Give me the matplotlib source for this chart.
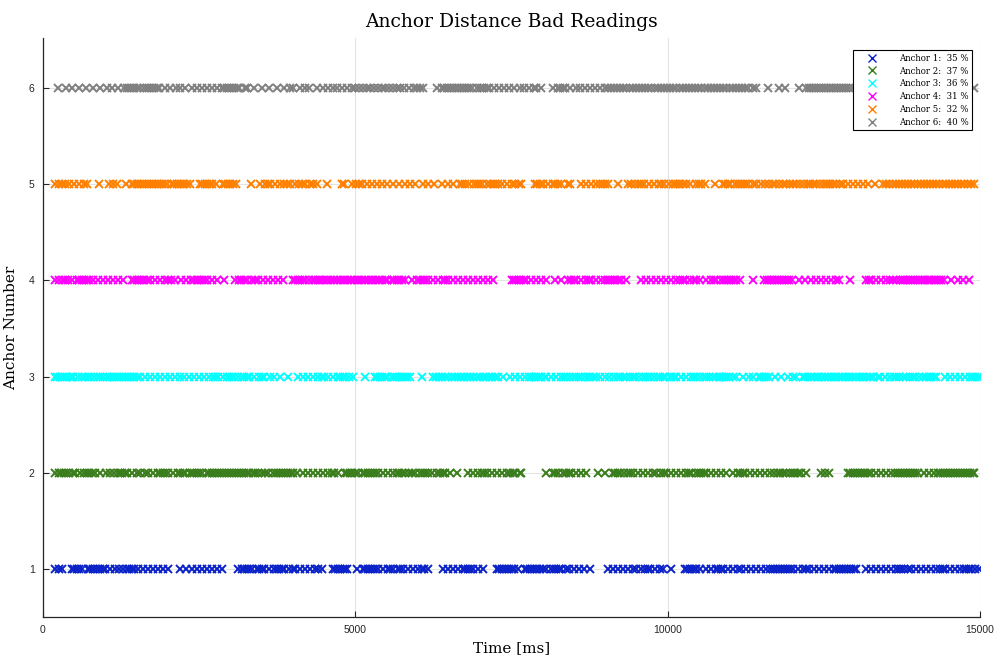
import matplotlib
matplotlib.use("Agg")
import matplotlib.pyplot as plt

# ---- data: times (ms) of bad readings per anchor ----
anchor_ids = [1, 2, 3, 4, 5, 6]
bad_pct = [35, 37, 36, 31, 32, 40]
colors = ["#0a22c8", "#3a7d1c", "#00ffff", "#ff00ff", "#ff8000", "#808080"]

anchor1_t = [200, 250, 300, 460, 500, 540, 580, 620, 720, 760, 800, 840, 880, 920, 960,
             1000, 1080, 1160, 1220, 1280, 1340, 1380, 1420, 1460, 1520, 1600,
             1680, 1760, 1840, 1920, 2000, 2200, 2290, 2380, 2460, 2540, 2620, 2700, 2780, 2860,
             3120, 3180, 3220, 3260, 3300, 3340, 3420, 3460, 3500, 3540, 3620, 3700, 3740, 3780, 3820, 3860,
             3940, 4000, 4040, 4120, 4200, 4280, 4360, 4400, 4460,
             4640, 4680, 4720, 4760, 4800, 4840, 4860, 5030,
             5120, 5160, 5200, 5240, 5280, 5320, 5360, 5440, 5520, 5560, 5600, 5680, 5720, 5760, 5840, 5920,
             6000, 6060, 6100, 6160, 6400, 6480, 6560, 6640, 6720, 6760, 6800, 6840, 6880, 6960, 7040,
             7260, 7300, 7340, 7380, 7420, 7460, 7500, 7540, 7600, 7710, 7750, 7790, 7830, 7870, 7910, 7950, 8000,
             8060, 8140, 8180, 8220, 8260, 8300, 8380, 8420, 8500, 8580, 8660, 8750,
             9040, 9120, 9200, 9280, 9360, 9440, 9500, 9580, 9640, 9680, 9720, 9800, 9880, 9920, 10060,
             10270, 10310, 10350, 10390, 10430, 10460, 10520, 10620, 10700,
             10770, 10810, 10850, 10890, 10960, 11040, 11120,
             11180, 11260, 11340, 11420, 11500, 11580, 11640, 11680, 11720, 11760, 11800, 11840, 11880, 11920,
             11960, 12000, 12080, 12160, 12220, 12270,
             12350, 12430, 12510, 12590, 12660, 12700, 12740, 12780, 12820, 12860, 12900, 12940, 12980, 13020,
             13180, 13260, 13340, 13420, 13500, 13580, 13660, 13700, 13740, 13780, 13840,
             13900, 13980, 14060, 14140, 14220, 14300, 14360, 14400, 14440, 14520, 14600, 14680, 14740, 14780,
             14820, 14860, 14920, 14990]

anchor2_t = [190, 250, 290, 330, 370, 410, 480, 510, 590, 660, 700, 740, 780, 830, 920, 1010, 1080, 1140, 1200,
             1230, 1270, 1310, 1350, 1420, 1500, 1560, 1640,
             1680, 1760, 1840, 1880, 1920, 1960, 2000, 2080, 2160, 2200, 2240, 2280, 2350,
             2380, 2420, 2460, 2500, 2540,
             2620, 2660, 2700, 2740, 2780, 2820, 2860, 2900, 2940, 2980, 3020, 3060, 3100, 3140, 3180, 3220,
             3260, 3300, 3360, 3400, 3440, 3500, 3560, 3600, 3680,
             3730, 3770, 3810, 3850, 3890, 3930, 3970, 4010, 4060,
             4160, 4240, 4320, 4400, 4480, 4560, 4620, 4660, 4720, 4830, 4870, 4910, 4950, 4990,
             5040, 5120, 5160, 5200, 5240, 5280, 5320, 5360, 5440, 5520, 5600,
             5660, 5700, 5740, 5800, 5860, 5900, 5960, 6030,
             6080, 6120, 6160, 6220, 6300, 6360, 6400, 6440, 6520, 6620,
             6800, 6880, 6960, 7020, 7060, 7100, 7180, 7260, 7340, 7420, 7480, 7520, 7560, 7630, 7660,
             8050, 8160, 8200, 8240, 8320, 8380, 8420, 8460, 8540, 8620, 8700, 8880, 9000,
             9120, 9160, 9200, 9240, 9300, 9360, 9400, 9440, 9520, 9600, 9680, 9760, 9820,
             9900, 9940, 9980, 10060, 10140, 10220, 10300, 10340, 10380, 10460, 10500, 10540, 10580, 10620,
             10700, 10780, 10860, 10940,
             11040, 11120, 11160, 11200, 11240, 11320, 11400, 11480, 11560, 11640, 11710,
             11760, 11800, 11840, 11900, 11960, 12000, 12040, 12080, 12140, 12220,
             12460, 12520, 12580,
             12880, 12920, 12960, 13000, 13040, 13080, 13120, 13160, 13200,
             13260, 13340, 13420, 13500, 13580, 13640, 13680, 13720, 13760, 13800, 13840, 13880, 13920, 13960, 14000,
             14110, 14190, 14260, 14320, 14360, 14400, 14440, 14480, 14520, 14560, 14600, 14640, 14680, 14720,
             14760, 14800, 14840, 14880, 14910]

anchor3_t = [190, 230, 270, 310, 350, 390, 430, 460,
             480, 560, 620, 680, 720, 760, 820, 880, 920, 960, 1020, 1060, 1100, 1140, 1180, 1220, 1260, 1300,
             1340, 1380, 1420, 1460, 1500,
             1560, 1640, 1720, 1800, 1880, 1960, 2040, 2120, 2190,
             2260, 2340, 2420, 2500, 2580, 2660, 2720, 2760, 2800, 2880, 2940, 2980, 3020, 3060, 3120,
             3180, 3220, 3260, 3300, 3380, 3460, 3500, 3540, 3630, 3700, 3800, 3920,
             4080, 4160, 4240, 4320, 4400, 4460, 4500, 4560, 4640, 4720, 4760, 4800, 4840, 4900, 4960, 5150,
             5310, 5350, 5390, 5430, 5470, 5510, 5590, 5630, 5670, 5710, 5750, 5790, 5830, 5870, 6070,
             6240, 6290, 6340, 6390, 6440, 6490, 6540, 6590, 6640, 6690, 6740, 6790, 6840, 6890, 6940, 6990,
             7040, 7090, 7140, 7190, 7240, 7290, 7360,
             7470, 7550, 7630, 7710, 7780, 7820, 7860, 7900, 7940, 7980, 8030,
             8060, 8140, 8220, 8300, 8340, 8380, 8440, 8500, 8540, 8580, 8620, 8680, 8720, 8760, 8800, 8860,
             8910, 8990, 9060, 9140, 9200, 9240, 9280, 9340, 9400, 9440, 9480, 9540, 9600, 9640, 9680, 9720,
             9780, 9840, 9880, 9920, 9960, 10030,
             10060, 10100, 10140, 10220, 10300, 10380, 10420, 10460, 10520, 10580, 10620, 10660, 10720, 10780,
             10820, 10860, 10900, 10940, 10980, 11040,
             11100, 11200, 11310, 11360, 11460, 11500, 11540, 11580, 11620, 11720, 11820, 11920, 12000, 12060,
             12160, 12205, 12250, 12295, 12340, 12385, 12430, 12475, 12520, 12565, 12610, 12655, 12700, 12745,
             12790, 12835, 12880, 12925, 12970, 13015, 13060, 13105, 13150, 13195, 13240, 13285, 13360,
             13400, 13480, 13560, 13620, 13660, 13700, 13760, 13820, 13880, 13920, 13960, 14020, 14080, 14140,
             14180, 14220, 14260, 14300,
             14440, 14520, 14600, 14680, 14760, 14840, 14880, 14920, 14960, 14990]

anchor4_t = [190, 260, 320, 360, 400, 460, 540, 580, 620, 660, 700, 740, 800, 880, 960, 1040, 1120, 1200,
             1280, 1420, 1460, 1500, 1540, 1580, 1620, 1660, 1710, 1790, 1870, 1950, 2000, 2050, 2110,
             2210, 2290, 2370, 2420, 2460, 2500, 2540, 2580, 2620, 2700, 2780, 2900,
             3070, 3130, 3170, 3210, 3260, 3340, 3400, 3440, 3520, 3600, 3680, 3760, 3840,
             4000, 4040, 4080, 4120, 4160, 4200, 4260, 4320, 4360, 4400, 4430,
             4480, 4525, 4570, 4615, 4660, 4705, 4750, 4795, 4840, 4885, 4930, 4975, 5020, 5065, 5110, 5155,
             5200, 5245, 5290, 5335, 5380, 5425, 5470,
             5500, 5580, 5620, 5660, 5700, 5740, 5790,
             5900, 5980, 6040, 6080, 6120, 6160, 6240, 6320, 6400, 6440, 6480, 6560, 6640, 6720, 6800, 6880,
             6960, 7040, 7120, 7200,
             7500, 7540, 7580, 7620, 7660, 7700, 7740, 7820, 7900, 7980, 8060, 8190,
             8300, 8400, 8460, 8500, 8540, 8620, 8700, 8740, 8780, 8860, 8940, 9000, 9040, 9080, 9120, 9160,
             9200, 9260, 9340,
             9580, 9660, 9740, 9820, 9900, 9980, 10060, 10140, 10200, 10240, 10280, 10360, 10420, 10460, 10510,
             10620, 10700, 10740, 10780, 10860, 10900, 10940, 10980, 11020, 11060, 11100, 11150, 11360,
             11550, 11590, 11630, 11670, 11710, 11750, 11790, 11830, 11870, 11910, 11950, 11990,
             12110, 12200, 12290, 12380, 12460, 12540, 12620, 12700, 12750, 12920,
             13180, 13220, 13260, 13340, 13420, 13500, 13560, 13600, 13660, 13720, 13760, 13800, 13840, 13880,
             13920, 13960, 14000, 14040, 14080, 14120, 14160, 14190,
             14220, 14260, 14300, 14340, 14380, 14430, 14540, 14640, 14730, 14830]

anchor5_t = [190, 250, 300, 350, 420, 500, 580, 650, 700, 900, 1060, 1120, 1190, 1330,
             1420, 1460, 1500, 1540, 1580, 1620, 1660, 1700, 1740, 1780, 1820, 1860, 1900, 1940,
             1980, 2060, 2100, 2140, 2180, 2220, 2260, 2300, 2350,
             2510, 2550, 2590, 2630, 2670, 2710, 2770, 2880, 2920, 2960, 3000, 3040, 3090, 3330, 3470,
             3550, 3600, 3640, 3720, 3800, 3860, 3900, 3960, 4040, 4100, 4140, 4200, 4280, 4330, 4380,
             4550, 4780, 4820,
             4940, 5010, 5060, 5100, 5180, 5260, 5340, 5420, 5500, 5600, 5700, 5800, 5880, 5960, 6080,
             6170, 6260, 6380, 6480, 6560,
             6670, 6710, 6750, 6820, 6900, 6940, 6980, 7020, 7100, 7160, 7200, 7240, 7280, 7340,
             7420, 7500, 7560, 7620, 7660,
             7870, 7910, 7950, 8000, 8080, 8160, 8200, 8240, 8300, 8400, 8440,
             8620, 8700, 8780, 8860, 8920, 8960, 9000, 9040, 9200,
             9360, 9420, 9480, 9540, 9580, 9620, 9700, 9780, 9860, 9900, 9940, 10020, 10080, 10120, 10160,
             10200, 10240, 10300, 10350,
             10460, 10500, 10540, 10590, 10760,
             10880, 10920, 10960, 11000, 11080, 11120, 11160, 11200, 11240, 11280, 11360,
             11420, 11500, 11560, 11620, 11680, 11720, 11780, 11840, 11900, 11960, 12000, 12060, 12120, 12180,
             12240, 12280, 12320, 12380, 12440, 12500, 12540,
             12560, 12600, 12640, 12700, 12760, 12800, 12880, 12960, 13040, 13120, 13200, 13320, 13440,
             13500, 13550, 13600, 13650, 13700, 13750, 13800, 13850, 13900, 13950, 14000, 14050, 14100, 14150,
             14200, 14250, 14300, 14350, 14400, 14450, 14500, 14550, 14600, 14650, 14700, 14750, 14800, 14860, 14910]

anchor6_t = [245, 370, 470, 580, 690, 800, 910,
             1020, 1110, 1200, 1290, 1340, 1380, 1420, 1460, 1500, 1550,
             1620, 1660, 1700, 1740, 1780, 1820, 1860, 1950, 2040, 2130, 2200, 2270,
             2380, 2460, 2540, 2620, 2700, 2780, 2860, 2900, 2940, 2980, 3020, 3060, 3100, 3140, 3230,
             3260, 3370, 3500, 3620, 3740, 3860, 3950,
             4010, 4110, 4200, 4260, 4380, 4480, 4560, 4640,
             4700, 4780, 4860, 4940, 5000, 5060, 5120, 5180, 5240, 5300, 5360, 5420, 5480, 5540, 5600, 5660,
             5720, 5780, 5860, 5940, 5980, 6030, 6080, 6300,
             6380, 6420, 6460, 6500, 6540, 6580, 6620, 6660, 6700, 6740, 6780, 6820, 6860, 6940, 6990,
             7020, 7060, 7100, 7140, 7220, 7300, 7380, 7460, 7540, 7630, 7700, 7780, 7860, 7900,
             7980, 8160, 8240, 8280, 8320, 8360, 8440, 8540, 8590, 8680, 8760, 8840, 8910,
             8990, 9040, 9090, 9140, 9190, 9240, 9290, 9340, 9390, 9440, 9490, 9540, 9590, 9640, 9690, 9740,
             9790, 9840, 9890, 9940, 9990, 10040, 10090, 10140, 10190, 10240, 10290, 10340, 10390, 10440,
             10490, 10540, 10590, 10640, 10690, 10740, 10790, 10840, 10890, 10940, 10990, 11040, 11090, 11140,
             11190, 11240, 11290, 11360,
             11420, 11610, 11790, 11880, 12110,
             12220, 12260, 12300, 12340, 12380, 12420, 12460, 12500, 12540, 12580, 12620, 12660, 12700, 12740,
             12780, 12820, 12860, 12900, 12960,
             13100, 13300, 13500, 13700, 13900, 14100, 14300, 14500, 14700, 14900]

anchor_times = [anchor1_t, anchor2_t, anchor3_t, anchor4_t, anchor5_t, anchor6_t]

x_ticks = [0, 5000, 10000, 15000]
y_ticks = [1, 2, 3, 4, 5, 6]

# ---- figure ----
fig = plt.figure(figsize=(10, 6.59), dpi=100)
ax = fig.add_axes([0.043, 0.0637, 0.937, 0.8786])

for aid, times, col, pct in zip(anchor_ids, anchor_times, colors, bad_pct):
    ax.plot(times, [aid] * len(times), linestyle="none", marker="x", color=col,
            markersize=5.4, markeredgewidth=1.4,
            label=f"Anchor {aid}:  {pct} %")

ax.set_xlim(0, 15000)
ax.set_ylim(0.5, 6.52)
ax.set_xticks(x_ticks)
ax.set_yticks(y_ticks)
ax.set_xticklabels([str(v) for v in x_ticks], family="Liberation Sans", fontsize=7.5)
ax.set_yticklabels([str(v) for v in y_ticks], family="Liberation Sans", fontsize=7.5)
ax.tick_params(direction="in", length=4, width=0.8, colors="#262626", pad=6)

ax.grid(True, color="#e3e3e3", linewidth=0.8)
ax.set_axisbelow(True)
for side in ["top", "right"]:
    ax.spines[side].set_visible(False)
for side in ["left", "bottom"]:
    ax.spines[side].set_color("#262626")
    ax.spines[side].set_linewidth(0.9)

ax.set_title("Anchor Distance Bad Readings", family="DejaVu Serif", fontsize=13.5, pad=8)
ax.set_xlabel("Time [ms]", family="DejaVu Serif", fontsize=11, labelpad=4)
ax.set_ylabel("Anchor Number", family="DejaVu Serif", fontsize=11, labelpad=8)

leg = ax.legend(loc="upper right", bbox_to_anchor=(0.9915, 0.979), borderaxespad=0,
                prop={"family": "DejaVu Serif", "size": 6.2}, frameon=True, fancybox=False,
                edgecolor="#000000", framealpha=1, labelspacing=0.45, handletextpad=1.4,
                handlelength=3.5, borderpad=0.4)
leg.get_frame().set_linewidth(0.8)
for h in leg.legend_handles:
    h.set_markeredgewidth(1.0)

fig.savefig("out.png", dpi=100)
